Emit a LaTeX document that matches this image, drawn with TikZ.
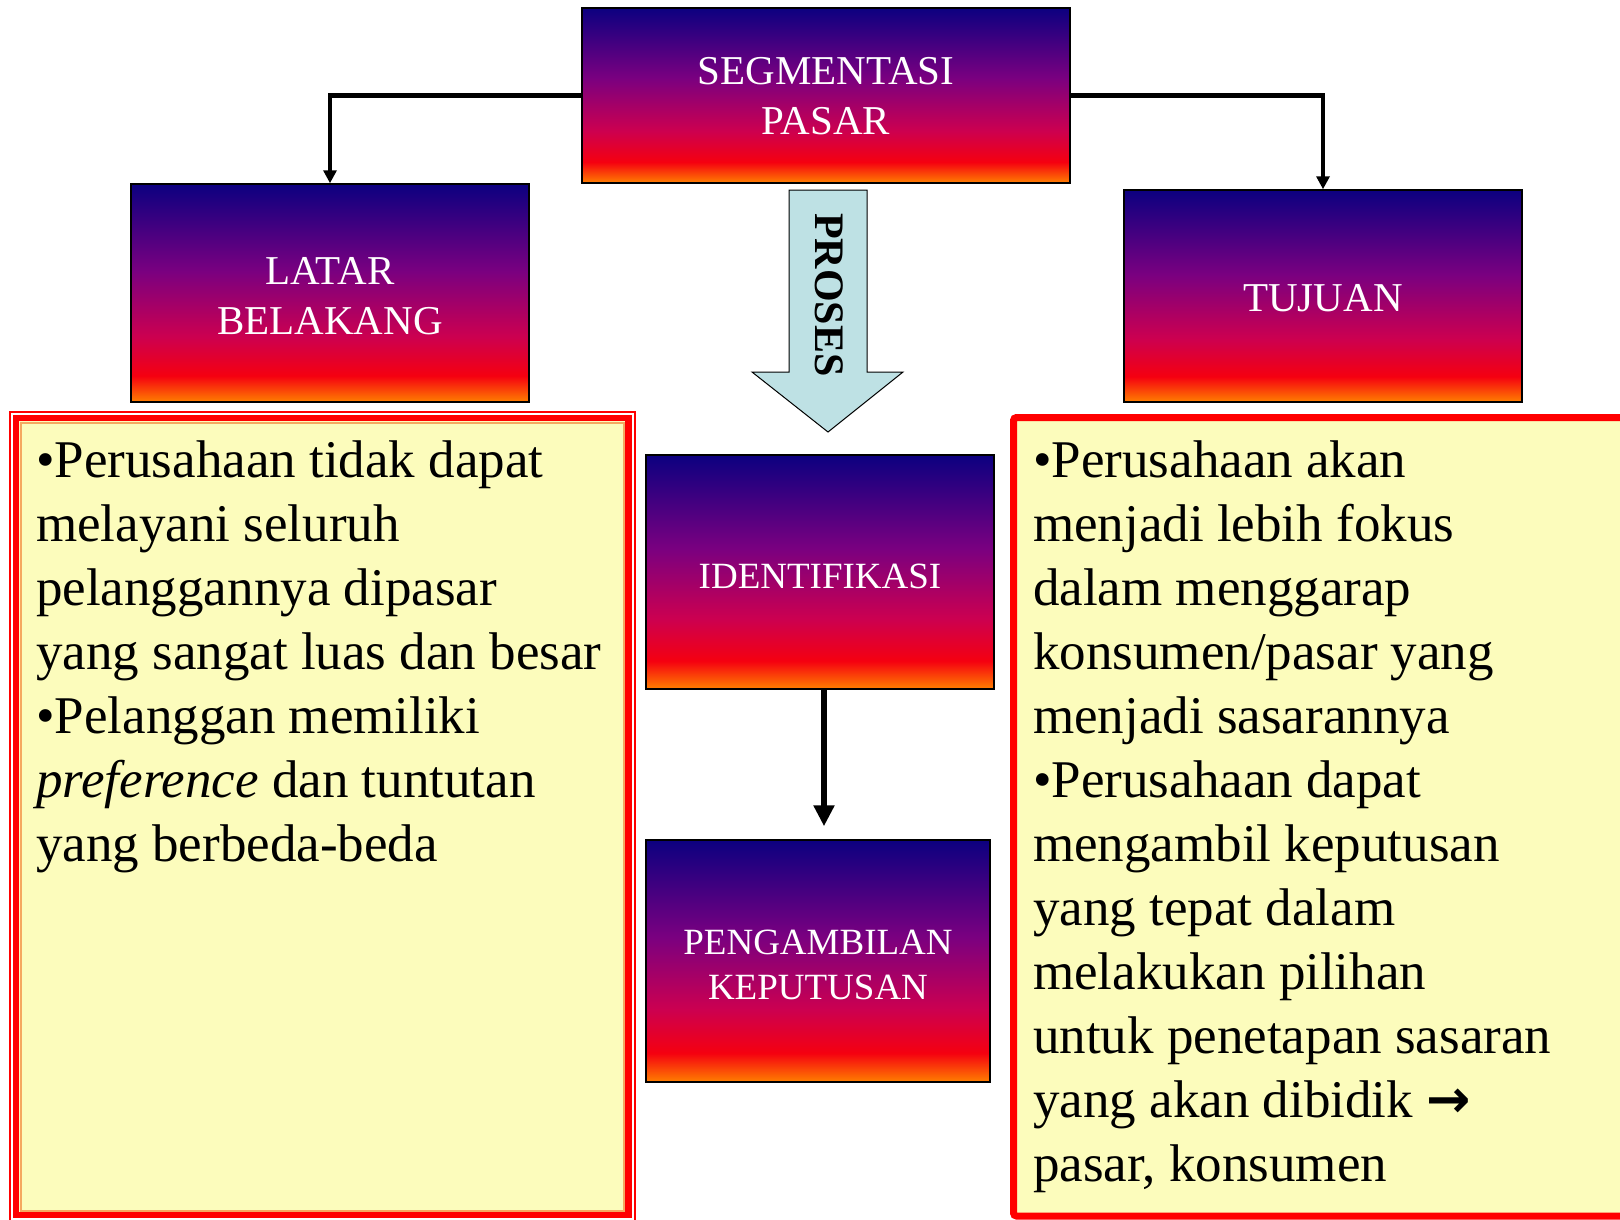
\documentclass[tikz,border=0pt]{standalone}
\usepackage{fontspec}
\setmainfont{Liberation Serif}
\newfontfamily\arrowfont{DejaVu Sans}
\usetikzlibrary{arrows.meta}
\definecolor{sNavy}{HTML}{0C0080}
\definecolor{sPur}{HTML}{7A0080}
\definecolor{sCrim}{HTML}{CC0050}
\definecolor{sRed}{HTML}{F50010}
\definecolor{sOr}{HTML}{FF8000}
\definecolor{yfill}{HTML}{FCFCBC}
\definecolor{prosesblue}{HTML}{BEE1E4}
\definecolor{innerorange}{HTML}{F5A860}
\pgfdeclareverticalshading{segshade}{100bp}{color(0bp)=(sOr); color(25bp)=(sOr); color(31bp)=(sRed); color(40bp)=(sCrim); color(55bp)=(sPur); color(75bp)=(sNavy); color(100bp)=(sNavy)}
\newcommand{\lowered}[2]{\raisebox{-#1}[\height][\depth]{#2}}
\newcommand{\twolines}[3]{\lowered{#1}{\begin{tabular}{@{}c@{}}#2\\#3\end{tabular}}}
\begin{document}
\begin{tikzpicture}[x=1pt,y=-1pt,
  gbox/.style={draw=black, line width=1.5pt, shade, shading=segshade, shading angle=0, text=white, align=center, inner sep=0pt},
  bigf/.style={font=\fontsize{41}{50}\selectfont},
  smallf/.style={font=\fontsize{37}{45}\selectfont},
  conn/.style={line width=4.5pt, -{Triangle[length=13pt,width=13pt]}},
  connthick/.style={line width=6pt, -{Triangle[length=21pt,width=20pt]}},
  txt/.style={anchor=north west, align=left, inner sep=0pt, text=black, font=\fontsize{53}{64}\selectfont}]
\useasboundingbox (0,0) rectangle (1620,1219);
\clip (0,0) rectangle (1620,1219);

% left yellow box frame
\fill[yfill] (19,421) rectangle (625,1212);
\draw[innerorange, line width=2pt] (20.5,422.5) rectangle (623.5,1210.5);
\draw[red, line width=6.5pt] (16,418) rectangle (628.5,1215);
\draw[red, line width=1.5pt] (10,1240) -- (10,412) -- (635,412) -- (635,1240);

% right yellow box frame
\draw[red, line width=7pt, fill=yfill, rounded corners=3pt] (1013.5,417.5) rectangle (1660,1216);

% gradient boxes
\node[gbox, bigf, minimum width=488pt, minimum height=175pt] (seg) at (826,95.5) {\twolines{4pt}{SEGMENTASI}{PASAR}};
\node[gbox, bigf, minimum width=398pt, minimum height=218pt] (lat) at (330,293) {\twolines{6pt}{LATAR}{BELAKANG}};
\node[gbox, bigf, minimum width=398pt, minimum height=212pt] (tuj) at (1323,296) {\lowered{2pt}{TUJUAN}};
\node[gbox, smallf, minimum width=348pt, minimum height=234pt] (idn) at (820,572) {\lowered{4pt}{IDENTIFIKASI}};
\node[gbox, smallf, minimum width=344pt, minimum height=242pt] (peng) at (818,961) {\twolines{7pt}{PENGAMBILAN}{KEPUTUSAN}};

% connectors
\draw[conn] (seg.west) -| (lat.north);
\draw[conn] (seg.east) -| (tuj.north);
\coordinate (idnout) at ([xshift=4pt]idn.south);
\draw[connthick, shorten >=13pt] (idnout) -- (idnout |- peng.north);

% PROSES block arrow
\draw[fill=prosesblue, draw=black, line width=1pt] (789,190) -- (867,190) -- (867,372) -- (903,372) -- (828,432) -- (752,372) -- (789,372) -- cycle;
\node[rotate=-90, font=\fontsize{42}{50}\selectfont\bfseries, inner sep=0pt] (proses) at (829,295) {PROSES};

% texts
\node[txt] (ltxt) at (36,441) {•Perusahaan tidak dapat\\melayani seluruh\\pelanggannya dipasar\\yang sangat luas dan besar\\•Pelanggan memiliki\\\textit{preference} dan tuntutan\\yang berbeda-beda};
\node[txt] (rtxt) at (1033,441) {•Perusahaan akan\\menjadi lebih fokus\\dalam menggarap\\konsumen/pasar yang\\menjadi sasarannya\\•Perusahaan dapat\\mengambil keputusan\\yang tepat dalam\\melakukan pilihan\\untuk penetapan sasaran\\yang akan dibidik {\arrowfont\bfseries →}\\pasar, konsumen};
\end{tikzpicture}
\end{document}
